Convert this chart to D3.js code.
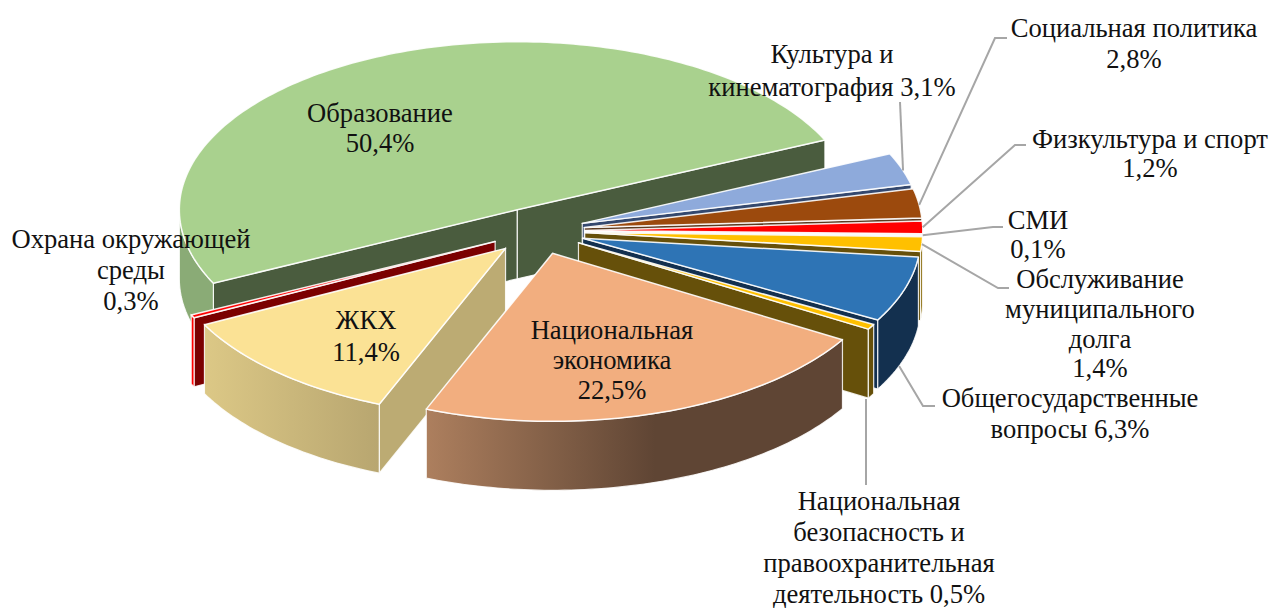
<!DOCTYPE html>
<html>
<head>
<meta charset="utf-8">
<script src="https://d3js.org/d3.v7.min.js"></script>
<style>
  html, body { margin: 0; padding: 0; background: #fff; }
  svg { display: block; }
  text { font-family: "Liberation Serif", serif; font-size: 26.6px; fill: #111; }
</style>
</head>
<body>
<svg id="chart" width="1272" height="608"></svg>
<script>
// Chart data, clockwise from the "Культура" slice
var categories = ["Культура", "Социальная политика", "Физкультура и спорт", "СМИ",
  "Обслуживание муниципального долга", "Общегосударственные вопросы",
  "Национальная безопасность", "Национальная экономика", "ЖКХ",
  "Охрана окружающей среды", "Образование"];
var shares = [3.1, 2.8, 1.2, 0.1, 1.4, 6.3, 0.5, 22.5, 11.4, 0.3, 50.4];
var labelLines = [
  ["Культура и", "кинематография 3,1%"],
  ["Социальная политика", "2,8%"],
  ["Физкультура и спорт", "1,2%"],
  ["СМИ", "0,1%"],
  ["Обслуживание", "муниципального", "долга", "1,4%"],
  ["Общегосударственные", "вопросы 6,3%"],
  ["Национальная", "безопасность и", "правоохранительная", "деятельность 0,5%"],
  ["Национальная", "экономика", "22,5%"],
  ["ЖКХ", "11,4%"],
  ["Охрана окружающей", "среды", "0,3%"],
  ["Образование", "50,4%"]
];

// Slice colours
var topColors = ["#8eaadb", "#9c4a0d", "#ff0000", "#c8c8c8", "#ffc000", "#2e74b5", "#ffc000",
  "#f2ae7f", "#fbe295", "#ff0000", "#a9d18e"];
var wallColors = ["#34486e", "#5c3a20", "#6b5a50", "#888888", "#66500a", "#13304f", "#66500a",
  "#5f4534", "#bcab73", "#7b0000", "#4a5c3e"];
var rimLeft = ["#34486e", "#5c3a20", "#8a0000", "#888888", "#8a6c0c", "#13304f", "#66500a",
  "#ad7f5e", "#dcc886", "#ff0000", "#8aab76"];
var rimRight = ["#34486e", "#5c3a20", "#8a0000", "#888888", "#8a6c0c", "#13304f", "#66500a",
  "#5f4534", "#b8a670", "#ff0000", "#8aab76"];

// Pie geometry
var cx = 537.5, cy = 231, rx = 338, ry = 168, depth = 69, explode = 0.14;
var firstAngle = 65.5 * Math.PI / 180;
var drawOrder = [10, 9, 0, 1, 2, 3, 4, 5, 6, 8, 7];

var svg = d3.select("#chart");
var defs = svg.append("defs");

var pie = d3.pie().sort(null).value(function(d) { return d; })
  .startAngle(firstAngle).endAngle(firstAngle + 2 * Math.PI);
var slices = pie(shares);
var line = d3.line();

function radial(angle, r) {
  return [r * rx * Math.sin(angle), -r * ry * Math.cos(angle)];
}

function apexOf(d) {
  var mid = radial((d.startAngle + d.endAngle) / 2, explode);
  return [cx + mid[0], cy + mid[1]];
}

function edgePoint(d, angle, dy) {
  var a = apexOf(d), p = radial(angle, 1);
  return [a[0] + p[0], a[1] + p[1] + (dy || 0)];
}

function arcPoints(d, from, to, dy) {
  var n = Math.max(2, Math.ceil((to - from) / 0.02));
  return d3.range(n + 1).map(function(i) {
    return edgePoint(d, from + (to - from) * i / n, dy);
  });
}

function wall(d, angle) {
  var a = apexOf(d), p = edgePoint(d, angle, 0);
  return line([a, p, [p[0], p[1] + depth], [a[0], a[1] + depth]]) + "Z";
}

var g = svg.append("g");

drawOrder.forEach(function(i) {
  var d = slices[i], sg = g.append("g").attr("class", "slice");
  var s = d.startAngle, e = d.endAngle;

  // radial walls that face the viewer
  if (Math.sin(s) < 0) {
    sg.append("path").attr("d", wall(d, s)).attr("fill", wallColors[i])
      .attr("stroke", "#fff").attr("stroke-opacity", 0.85).attr("stroke-width", 1.2);
  }
  if (Math.sin(e) > 0) {
    sg.append("path").attr("d", wall(d, e)).attr("fill", wallColors[i])
      .attr("stroke", "#fff").attr("stroke-opacity", 0.85).attr("stroke-width", 1.2);
  }

  // outer rim, only the front half of the ellipse
  var from = Math.max(s, Math.PI / 2), to = Math.min(e, 1.5 * Math.PI);
  if (to > from) {
    var top = arcPoints(d, from, to, 0);
    var bottom = arcPoints(d, from, to, depth).reverse();
    var gradId = "rim" + i;
    var grad = defs.append("linearGradient").attr("id", gradId)
      .attr("gradientUnits", "userSpaceOnUse")
      .attr("x1", d3.min(top, function(p) { return p[0]; })).attr("y1", 0)
      .attr("x2", d3.max(top, function(p) { return p[0]; })).attr("y2", 0);
    grad.append("stop").attr("offset", "0%").attr("stop-color", rimLeft[i]);
    grad.append("stop").attr("offset", i === 7 ? "55%" : "100%").attr("stop-color", rimRight[i]);
    sg.append("path").attr("d", line(top.concat(bottom)) + "Z")
      .attr("fill", "url(#" + gradId + ")")
      .attr("stroke", "#fff").attr("stroke-opacity", 0.85).attr("stroke-width", 1.2);
  }

  // top face
  var face = [apexOf(d)].concat(arcPoints(d, s, e, 0));
  sg.append("path").attr("d", line(face) + "Z").attr("fill", topColors[i])
    .attr("stroke", "#fff").attr("stroke-opacity", 0.9).attr("stroke-width", 1.5)
    .attr("stroke-linejoin", "round");
});

// Leader lines, starting on the slice edge
var leaderRoutes = [
  { slice: 0, t: 0.55, dy: 0, via: [[900, 102]] },
  { slice: 1, t: 0.55, dy: 0, via: [[995, 38], [1007, 38]] },
  { slice: 2, t: 0.5, dy: 0, via: [[1015, 145], [1026, 145]] },
  { slice: 3, t: 0.5, dy: 0, via: [[993, 227], [1003, 227]] },
  { slice: 4, t: 0.5, dy: 0, via: [[998, 288], [1009, 288]] },
  { slice: 5, t: 0.62, dy: 69, via: [[923, 406], [935, 406]] }
];
var leaderG = svg.append("g").attr("fill", "none").attr("stroke", "#a6a6a6").attr("stroke-width", 2);
leaderRoutes.forEach(function(r) {
  var d = slices[r.slice];
  var start = edgePoint(d, d.startAngle + (d.endAngle - d.startAngle) * r.t, r.dy);
  leaderG.append("path").attr("d", line([start].concat(r.via)));
});
// this one leaves from the wall, not from the rim
leaderG.append("path").attr("d", line([[866, 399], [866, 485]]));

// Labels: centre x and first baseline with line step per slice
var labelPos = [
  { x: 832, y: 63, step: 33 },
  { x: 1134, y: 37, step: 31 },
  { x: 1150, y: 148, step: 29 },
  { x: 1038, y: 229, step: 29 },
  { x: 1100, y: 288, step: 29.8 },
  { x: 1070, y: 407, step: 31 },
  { x: 879, y: 510, step: 31 },
  { x: 612, y: 339, step: 30 },
  { x: 366, y: 329, step: 32 },
  { x: 131, y: 248, step: 31 },
  { x: 380, y: 122, step: 30 }
];
labelLines.forEach(function(lines, i) {
  var t = svg.append("text").attr("text-anchor", "middle");
  lines.forEach(function(txt, k) {
    t.append("tspan").attr("x", labelPos[i].x)
      .attr("y", labelPos[i].y + k * labelPos[i].step).text(txt);
  });
});
</script>
</body>
</html>
